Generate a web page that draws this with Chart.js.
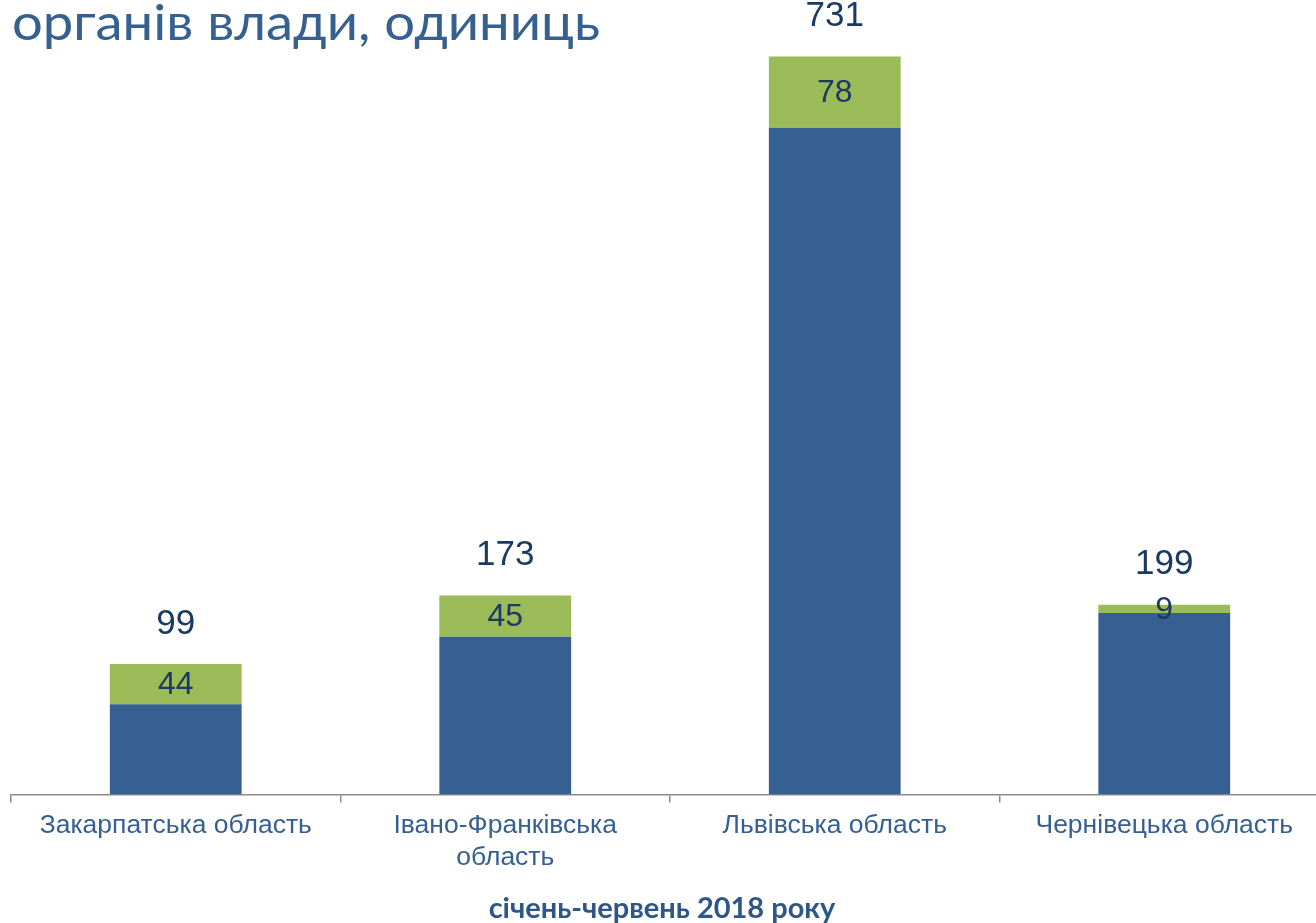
<!DOCTYPE html>
<html>
<head>
<meta charset="utf-8">
<script src="https://cdn.jsdelivr.net/npm/chart.js@4.4.1/dist/chart.umd.min.js"></script>
<style>
  html, body { margin: 0; padding: 0; background: #fff; overflow: hidden; }
  #wrap { position: relative; width: 1340px; height: 923px; }
</style>
</head>
<body>
<div id="wrap"><canvas id="c"></canvas></div>
<script>
const categories = [
  'Закарпатська область',
  ['Івано-Франківська', 'область'],
  'Львівська область',
  'Чернівецька область'
];
const totals = [99, 173, 731, 199];
const extra = [44, 45, 78, 9];
const yMax = 871;
const titleText = 'органів влади, одиниць';
const axisTitleText = 'січень-червень 2018 року';

const BLUE = '#376092';
const GREEN = '#9BBB59';
const NAVY = '#1B3A63';

function fitText(ctx, text, x, y, width) {
  const w = ctx.measureText(text).width;
  const sx = width / w;
  ctx.save();
  ctx.translate(x, y);
  ctx.scale(sx, 1);
  ctx.fillText(text, 0, 0);
  ctx.restore();
}

const labelPlugin = {
  id: 'labels',
  afterDatasetsDraw(chart) {
    const ctx = chart.ctx;
    const mTop = chart.getDatasetMeta(1);
    ctx.save();
    ctx.fillStyle = NAVY;
    ctx.textAlign = 'center';
    ctx.textBaseline = 'middle';
    mTop.data.forEach((el, i) => {
      const p = el.getProps(['x', 'y', 'base'], true);
      ctx.font = '32px "Liberation Sans", Arial, sans-serif';
      ctx.fillText(String(extra[i]), p.x, (p.y + p.base) / 2 + 1);
      ctx.font = '35px "Liberation Sans", Arial, sans-serif';
      ctx.fillText(String(totals[i]), p.x, p.y - 40);
    });
    ctx.restore();
  },
  afterDraw(chart) {
    const ctx = chart.ctx;
    ctx.save();
    ctx.fillStyle = '#35608F';
    ctx.textAlign = 'left';
    ctx.textBaseline = 'alphabetic';
    ctx.font = '51px Lato, sans-serif';
    fitText(ctx, titleText, 12, 40, 588);
    ctx.fillStyle = '#2E5688';
    ctx.textAlign = 'center';
    ctx.font = 'bold 29px Lato, sans-serif';
    ctx.fillText(axisTitleText, 662, 918);
    ctx.restore();
  }
};

new Chart(document.getElementById('c'), {
  type: 'bar',
  data: {
    labels: categories,
    datasets: [
      { label: 'Всього', data: totals, backgroundColor: BLUE, borderWidth: 0,
        barPercentage: 1, categoryPercentage: 0.4 },
      { label: 'Додатково', data: extra, backgroundColor: GREEN, borderWidth: 0,
        barPercentage: 1, categoryPercentage: 0.4 }
    ]
  },
  options: {
    responsive: true,
    maintainAspectRatio: false,
    animation: false,
    layout: { padding: { left: 11, right: 11, top: 0, bottom: 42 } },
    plugins: { legend: { display: false }, tooltip: { enabled: false }, title: { display: false } },
    scales: {
      x: {
        stacked: true,
        offset: true,
        grid: { display: true, drawOnChartArea: false, offset: true, tickLength: 8, color: '#8C8C8C', lineWidth: 1.5 },
        border: { display: true, color: '#8C8C8C', width: 1.5 },
        ticks: {
          color: '#376092', padding: 8, maxRotation: 0, autoSkip: false,
          font: { family: '"Liberation Sans", Arial, sans-serif', size: 26.5, lineHeight: 1.18 }
        }
      },
      y: {
        stacked: true, display: false, min: 0, max: yMax
      }
    }
  },
  plugins: [labelPlugin]
});
</script>
</body>
</html>
